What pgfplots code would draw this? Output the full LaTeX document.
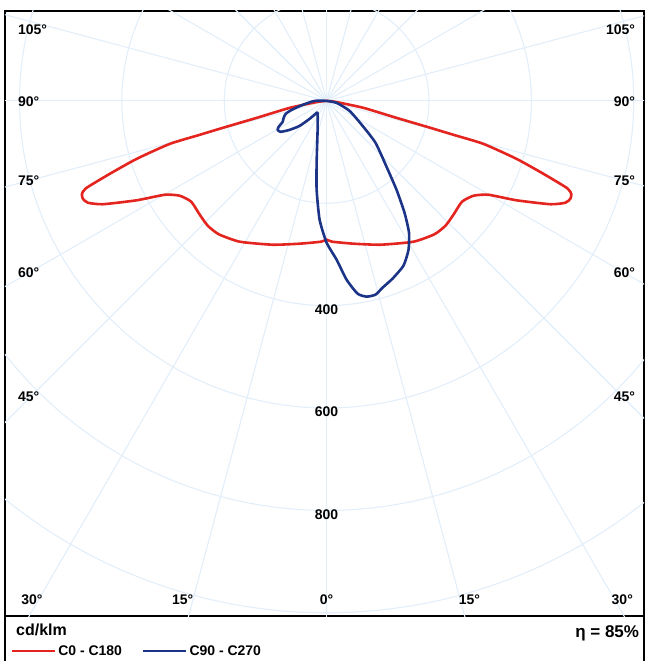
\documentclass[border=0pt]{standalone}
\usepackage{fontspec}
\setmainfont{Liberation Sans}
\usepackage{pgfplots}
\pgfplotsset{compat=1.18}
\definecolor{cred}{RGB}{228,36,30}
\definecolor{cblue}{RGB}{28,52,135}
\definecolor{cgrid}{RGB}{226,238,249}

\pgfplotstableread{
X Y
0 0
-17.6 -2
-72.2 -13.7
-136.6 -33.2
-202.9 -52.7
-247.8 -66.3
-306.3 -84.0
-370.7 -113.1
-423.4 -142.4
-470.2 -170.7
-478 -182
-476.1 -191.3
-466.3 -199.0
-437.1 -201.9
-370.7 -194.2
-316.2 -183.4
-287.0 -185.3
-264.5 -197.0
-247.8 -222.4
-232.1 -244.0
-210.6 -260.6
-169.8 -275.1
-105.4 -281.0
-52.7 -279.0
-10.8 -275.1
0 -271.2
10.8 -275.1
52.7 -279.0
105.4 -281.0
169.8 -275.1
210.6 -260.6
232.1 -244.0
247.8 -222.4
264.5 -197.0
287.0 -185.3
316.2 -183.4
370.7 -194.2
437.1 -201.9
466.3 -199.0
476.1 -191.3
478 -182
470.2 -170.7
423.4 -142.4
370.7 -113.1
306.3 -84.0
247.8 -66.3
202.9 -52.7
136.6 -33.2
72.2 -13.7
17.6 -2
0 0
}\redtable

\pgfplotstableread{
X Y
0 0
19.5 -3.9
44.9 -19.6
70.2 -48.7
95.6 -82.0
117.1 -128.8
136.6 -173.7
152.2 -218.5
161.0 -257.6
160.0 -290.7
150.2 -321.9
128.8 -347.3
109.3 -364.9
95.6 -378.5
78.0 -382.4
60.5 -376.6
39.0 -349.3
19.5 -310.2
0 -277.1
-13.7 -232.2
-19.5 -173.7
-19.5 -121.0
-17.6 -56.6
-17.6 -23.4
-21.5 -25.4
-33.2 -35.1
-52.7 -48.8
-72.2 -56.6
-89.8 -60.5
-95.6 -56.6
-93.7 -50.7
-85.9 -41.0
-83.9 -33.2
-80.0 -25.4
-68.3 -17.6
-46.8 -7.8
-23.4 0
0 0
}\bluetable

\begin{document}
\begin{tikzpicture}
\begin{axis}[
  name=ax,
  scale only axis, width=640pt, height=606pt,
  xmin=-628.3, xmax=620.5, ymin=-1006.8, ymax=175.6,
  axis line style={line width=1.6pt},
  ticks=none,
  legend style={at={(0.004,-0.041)}, anchor=north west, draw=none, fill=none,
    font=\bfseries\fontsize{14}{16}\selectfont, legend columns=2,
    /tikz/every even column/.append style={column sep=18pt}},
  legend cell align=left,
  legend image code/.code={\draw[#1] (0pt,0pt) -- (43pt,0pt);},
]
\pgfplotsinvokeforeach{200,400,...,1400}{
  \draw[cgrid, line width=1.1pt] (axis cs:0,0) circle[radius=#1];
}
\pgfplotsinvokeforeach{0,15,...,345}{
  \draw[cgrid, line width=1.1pt] (axis cs:0,0) -- (axis cs:{2000*cos(#1)},{2000*sin(#1)});
}
\addplot[cred, line width=2.6pt, line join=round, smooth, tension=0.35] table[x=X,y=Y] {\redtable};
\addlegendentry{C0 - C180}
\addplot[cblue, line width=2.6pt, line join=round, smooth, tension=0.35] table[x=X,y=Y] {\bluetable};
\addlegendentry{C90 - C270}

\begin{scope}[every node/.style={font=\bfseries\fontsize{14}{16}\selectfont, inner sep=0pt}]
\node[anchor=west] at (axis cs:-603,138.5) {105°};
\node[anchor=west] at (axis cs:-603,-2) {90°};
\node[anchor=west] at (axis cs:-603,-156) {75°};
\node[anchor=west] at (axis cs:-603,-335.6) {60°};
\node[anchor=west] at (axis cs:-603,-577.6) {45°};
\node[anchor=east] at (axis cs:603,138.5) {105°};
\node[anchor=east] at (axis cs:603,-2) {90°};
\node[anchor=east] at (axis cs:603,-156) {75°};
\node[anchor=east] at (axis cs:603,-335.6) {60°};
\node[anchor=east] at (axis cs:603,-577.6) {45°};
\node at (axis cs:-575.6,-973.7) {30°};
\node at (axis cs:-281,-973.7) {15°};
\node at (axis cs:0,-973.7) {0°};
\node at (axis cs:279,-973.7) {15°};
\node at (axis cs:577.6,-973.7) {30°};
\node at (axis cs:0,-407.8) {400};
\node at (axis cs:0,-606.8) {600};
\node at (axis cs:0,-807.8) {800};
\end{scope}
\end{axis}
\draw[line width=1.6pt] (ax.south west) -- ++(0,-45pt);
\draw[line width=1.6pt] (ax.south east) -- ++(0,-45pt);
\node[anchor=west, inner sep=0pt, font=\bfseries\fontsize{16}{18}\selectfont] at ([shift={(11pt,-14pt)}]ax.south west) {cd/klm};
\node[anchor=east, inner sep=0pt, font=\bfseries\fontsize{17}{19}\selectfont] at ([shift={(-5pt,-17pt)}]ax.south east) {η = 85\%};
\path[use as bounding box] ([shift={(-5pt,-45pt)}]ax.south west) rectangle ([shift={(3pt,11pt)}]ax.north east);
\end{tikzpicture}
\end{document}
